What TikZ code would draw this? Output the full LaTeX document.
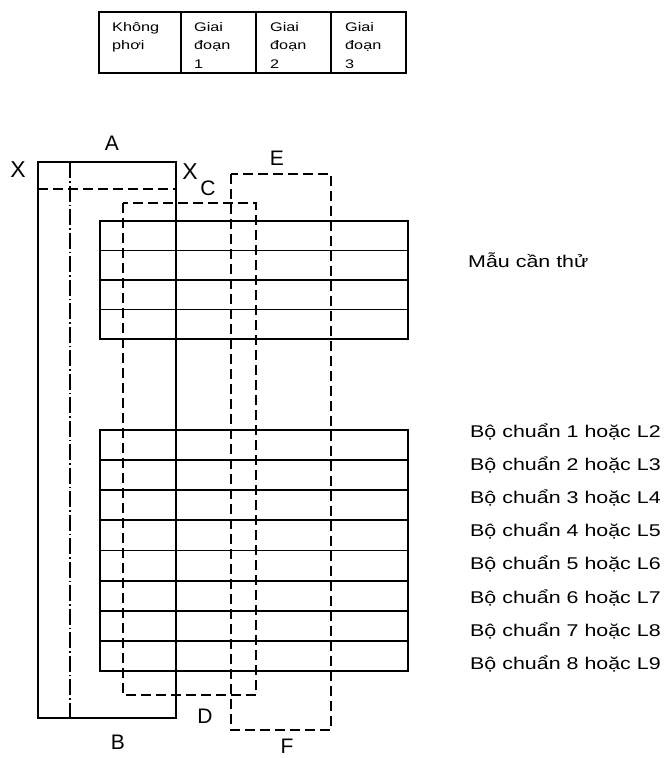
\documentclass[tikz,border=0pt]{standalone}
\usepackage{fontspec}
\setmainfont{Liberation Sans}
\newcommand{\hsA}[1]{\scalebox{1.3}[1]{#1}}
\newcommand{\hsB}[1]{\scalebox{1.26}[1]{#1}}
\begin{document}
\begin{tikzpicture}[x=1pt,y=-1pt,
  solidline/.style={line width=1.8pt},
  tableline/.style={line width=1.2pt},
  dashline/.style={line width=1.6pt, dash pattern=on 10pt off 5pt},
  dashdot/.style={line width=1.4pt, dash pattern=on 16pt off 3pt on 1.5pt off 3pt},
  tabtext/.style={font=\fontsize{12.5}{12.5}\selectfont, anchor=base west, inner sep=0pt},
  letter/.style={font=\fontsize{21}{21}\selectfont, inner sep=0pt},
  bigletter/.style={font=\fontsize{23}{23}\selectfont, inner sep=0pt},
  legend/.style={font=\fontsize{17}{17}\selectfont, anchor=base west, inner sep=0pt}]
\useasboundingbox (0,0) rectangle (669,758);

% ---- top table ----
\draw[tableline] (99,12) rectangle (406,73);
\draw[tableline] (181,12) -- (181,73);
\draw[tableline] (256,12) -- (256,73);
\draw[tableline] (331,12) -- (331,73);
\node[tabtext] (t11) at (112,31) {\hsA{Không}};
\node[tabtext] (t12) at (112,49.5) {\hsA{phơi}};
\node[tabtext] (t21) at (194,31) {\hsA{Giai}};
\node[tabtext] (t22) at (194,49.5) {\hsA{đoạn}};
\node[tabtext] (t23) at (194,68) {\hsA{1}};
\node[tabtext] (t31) at (270,31) {\hsA{Giai}};
\node[tabtext] (t32) at (270,49.5) {\hsA{đoạn}};
\node[tabtext] (t33) at (270,68) {\hsA{2}};
\node[tabtext] (t41) at (345,31) {\hsA{Giai}};
\node[tabtext] (t42) at (345,49.5) {\hsA{đoạn}};
\node[tabtext] (t43) at (345,68) {\hsA{3}};

% ---- sample block (4 rows) ----
\draw[solidline] (100,221) rectangle (408,339);
\foreach \y in {250.5,280,309.5} \draw[solidline] (100,\y) -- (408,\y);

% ---- reference block (8 rows) ----
\draw[solidline] (100,430) rectangle (408,671);
\foreach \k in {1,...,7} \draw[solidline] (100,{430+30.125*\k}) -- (408,{430+30.125*\k});

% ---- frame A/B ----
\draw[solidline] (38,162) rectangle (176,718);
\draw[dashline] (38,189) -- (176,189);
\draw[dashdot] (70,162) -- (70,718);

% ---- frame C/D ----
\draw[dashline] (123,203) rectangle (256,695);

% ---- frame E/F ----
\draw[dashline] (231,174) rectangle (331,730);

% ---- letters ----
\node[letter] (lA) at (112,143) {A};
\node[letter] (lB) at (118,742) {B};
\node[letter] (lC) at (208,188) {C};
\node[letter] (lD) at (205,716) {D};
\node[letter] (lE) at (277,158) {E};
\node[letter] (lF) at (287,746) {F};
\node[bigletter] (xL) at (18,170) {X};
\node[bigletter] (xR) at (190,172) {X};

% ---- legends ----
\node[legend] (m) at (468,267) {\hsB{Mẫu cần thử}};
\foreach \k in {1,...,8} {
  \pgfmathtruncatemacro{\lnum}{\k+1}
  \node[legend] (b\k) at (470,{437+33.2*(\k-1)}) {\hsB{Bộ chuẩn \k{} hoặc L\lnum}};
}
\end{tikzpicture}
\end{document}
